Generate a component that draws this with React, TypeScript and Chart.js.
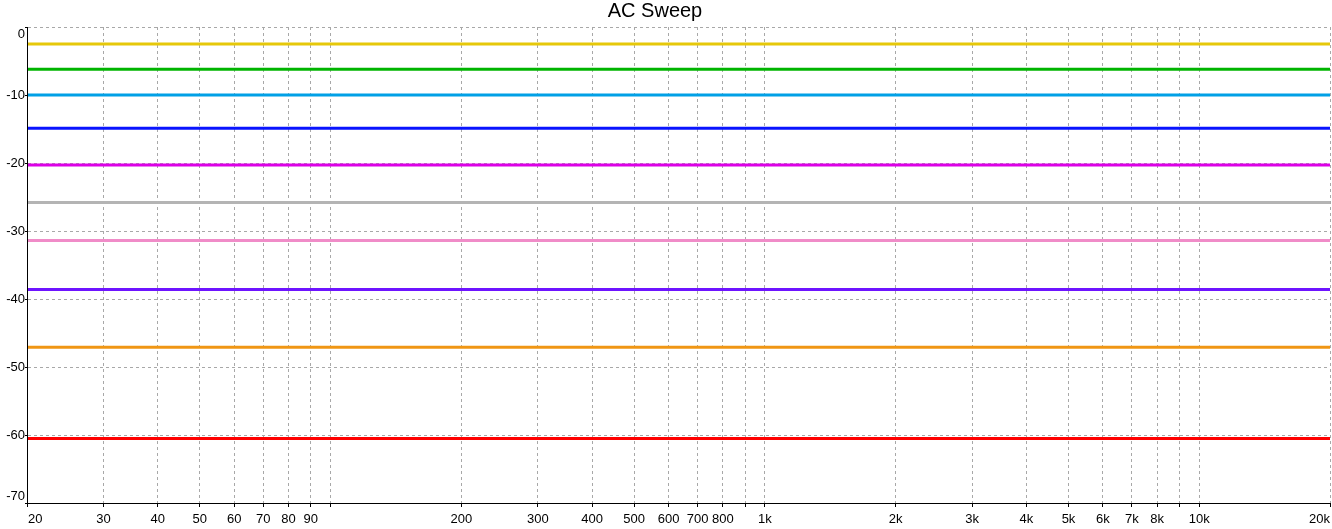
import React, { useEffect, useRef } from "react";
import { Chart, registerables } from "chart.js";

Chart.register(...registerables);

const chartTitle = "AC Sweep";
const frequencies = [20, 20000];
const seriesLevels = [-2.5, -6.2, -10.0, -14.9, -20.3, -25.8, -31.4, -38.6, -47.1, -60.5];
const seriesColors = [
  "#e6c80a",
  "#00b400",
  "#00a0e6",
  "#0a14ff",
  "#dc00e6",
  "#b4b4b4",
  "#f08cc8",
  "#6e14ff",
  "#f09614",
  "#ff0000",
];
const xTickValues = [
  20, 30, 40, 50, 60, 70, 80, 90, 100, 200, 300, 400, 500, 600, 700, 800, 900, 1000, 2000, 3000,
  4000, 5000, 6000, 7000, 8000, 9000, 10000, 20000,
];
const xTickLabels = [
  "20", "30", "40", "50", "60", "70", "80", "90", "", "200", "300", "400", "500", "600", "700",
  "800", "", "1k", "2k", "3k", "4k", "5k", "6k", "7k", "8k", "", "10k", "20k",
];
const yTickValues = [0, -10, -20, -30, -40, -50, -60, -70];
const yTickLabels = ["0", "-10", "-20", "-30", "-40", "-50", "-60", "-70"];

const LABEL_FONT = "13px 'Liberation Sans', Arial, sans-serif";
const TITLE_FONT = "20px 'Liberation Sans', Arial, sans-serif";
const GRID_COLOR = "#a8a8a8";

const labelPlugin = {
  id: "customLabels",
  afterDraw(chart: any) {
    const ctx = chart.ctx as CanvasRenderingContext2D;
    const area = chart.chartArea;
    const xs = chart.scales.x;
    const ys = chart.scales.y;
    ctx.save();
    ctx.fillStyle = "#000";
    ctx.font = TITLE_FONT;
    ctx.textAlign = "center";
    ctx.textBaseline = "alphabetic";
    ctx.fillText(chartTitle, 655, 17);
    ctx.font = LABEL_FONT;
    ctx.textAlign = "right";
    ctx.textBaseline = "middle";
    yTickValues.forEach((v, i) => {
      let y = ys.getPixelForValue(v);
      y = Math.min(Math.max(y, area.top + 7), area.bottom - 7);
      ctx.fillText(yTickLabels[i], area.left - 2, y);
    });
    xTickValues.forEach((v, i) => {
      const label = xTickLabels[i];
      if (!label) return;
      const x = xs.getPixelForValue(v);
      const w = ctx.measureText(label).width;
      let cx = x;
      if (cx - w / 2 < area.left) cx = area.left + w / 2 + 1;
      if (cx + w / 2 > area.right) cx = area.right - w / 2;
      ctx.textAlign = "center";
      ctx.fillText(label, cx, area.bottom + 16);
    });
    // redraw solid axis lines on top
    ctx.strokeStyle = "#000";
    ctx.lineWidth = 1;
    ctx.beginPath();
    ctx.moveTo(Math.round(area.left) + 0.5, area.top);
    ctx.lineTo(Math.round(area.left) + 0.5, area.bottom + 0.5);
    ctx.lineTo(area.right, Math.round(area.bottom) + 0.5);
    ctx.stroke();
    ctx.restore();
  },
};

export default function App() {
  const canvasRef = useRef<HTMLCanvasElement | null>(null);

  useEffect(() => {
    if (!canvasRef.current) return;
    const chart = new Chart(canvasRef.current, {
      type: "line",
      data: {
        datasets: seriesLevels.map((level, i) => ({
          data: frequencies.map((f) => ({ x: f, y: level })),
          borderColor: seriesColors[i],
          backgroundColor: seriesColors[i],
          borderWidth: 3,
          pointRadius: 0,
          fill: false,
          tension: 0,
        })),
      },
      options: {
        animation: false,
        responsive: false,
        devicePixelRatio: 1,
        layout: { padding: { top: 27, right: 2, left: 0, bottom: 0 } },
        plugins: {
          legend: { display: false },
          title: { display: false },
          tooltip: { enabled: false },
        },
        scales: {
          x: {
            type: "logarithmic",
            min: 20,
            max: 20000,
            afterBuildTicks: (scale: any) => {
              scale.ticks = xTickValues.map((v) => ({ value: v }));
            },
            afterFit: (scale: any) => {
              scale.height = 26;
            },
            ticks: { display: false, autoSkip: false },
            grid: {
              color: (c: any) => (c.tick && c.tick.value === 20 ? "rgba(0,0,0,0)" : GRID_COLOR),
              lineWidth: 1,
              drawTicks: true,
              tickLength: 4,
              tickColor: "#000",
              tickBorderDash: [],
            },
            border: { display: true, color: "#000", width: 1, dash: [3, 3] },
          },
          y: {
            type: "linear",
            min: -70,
            max: 0,
            afterBuildTicks: (scale: any) => {
              scale.ticks = yTickValues.map((v) => ({ value: v }));
            },
            afterFit: (scale: any) => {
              scale.width = 27;
            },
            ticks: { display: false, autoSkip: false },
            grid: {
              color: (c: any) => (c.tick && c.tick.value === -70 ? "rgba(0,0,0,0)" : GRID_COLOR),
              lineWidth: 1,
              drawTicks: true,
              tickLength: 2,
              tickColor: "#000",
              tickBorderDash: [],
            },
            border: { display: true, color: "#000", width: 1, dash: [3, 3] },
          },
        },
      },
      plugins: [labelPlugin],
    });
    return () => chart.destroy();
  }, []);

  return (
    <div style={{ position: "fixed", left: 0, top: 0, width: 1332, height: 529, background: "#fff" }}>
      <canvas ref={canvasRef} width={1332} height={529} />
    </div>
  );
}
